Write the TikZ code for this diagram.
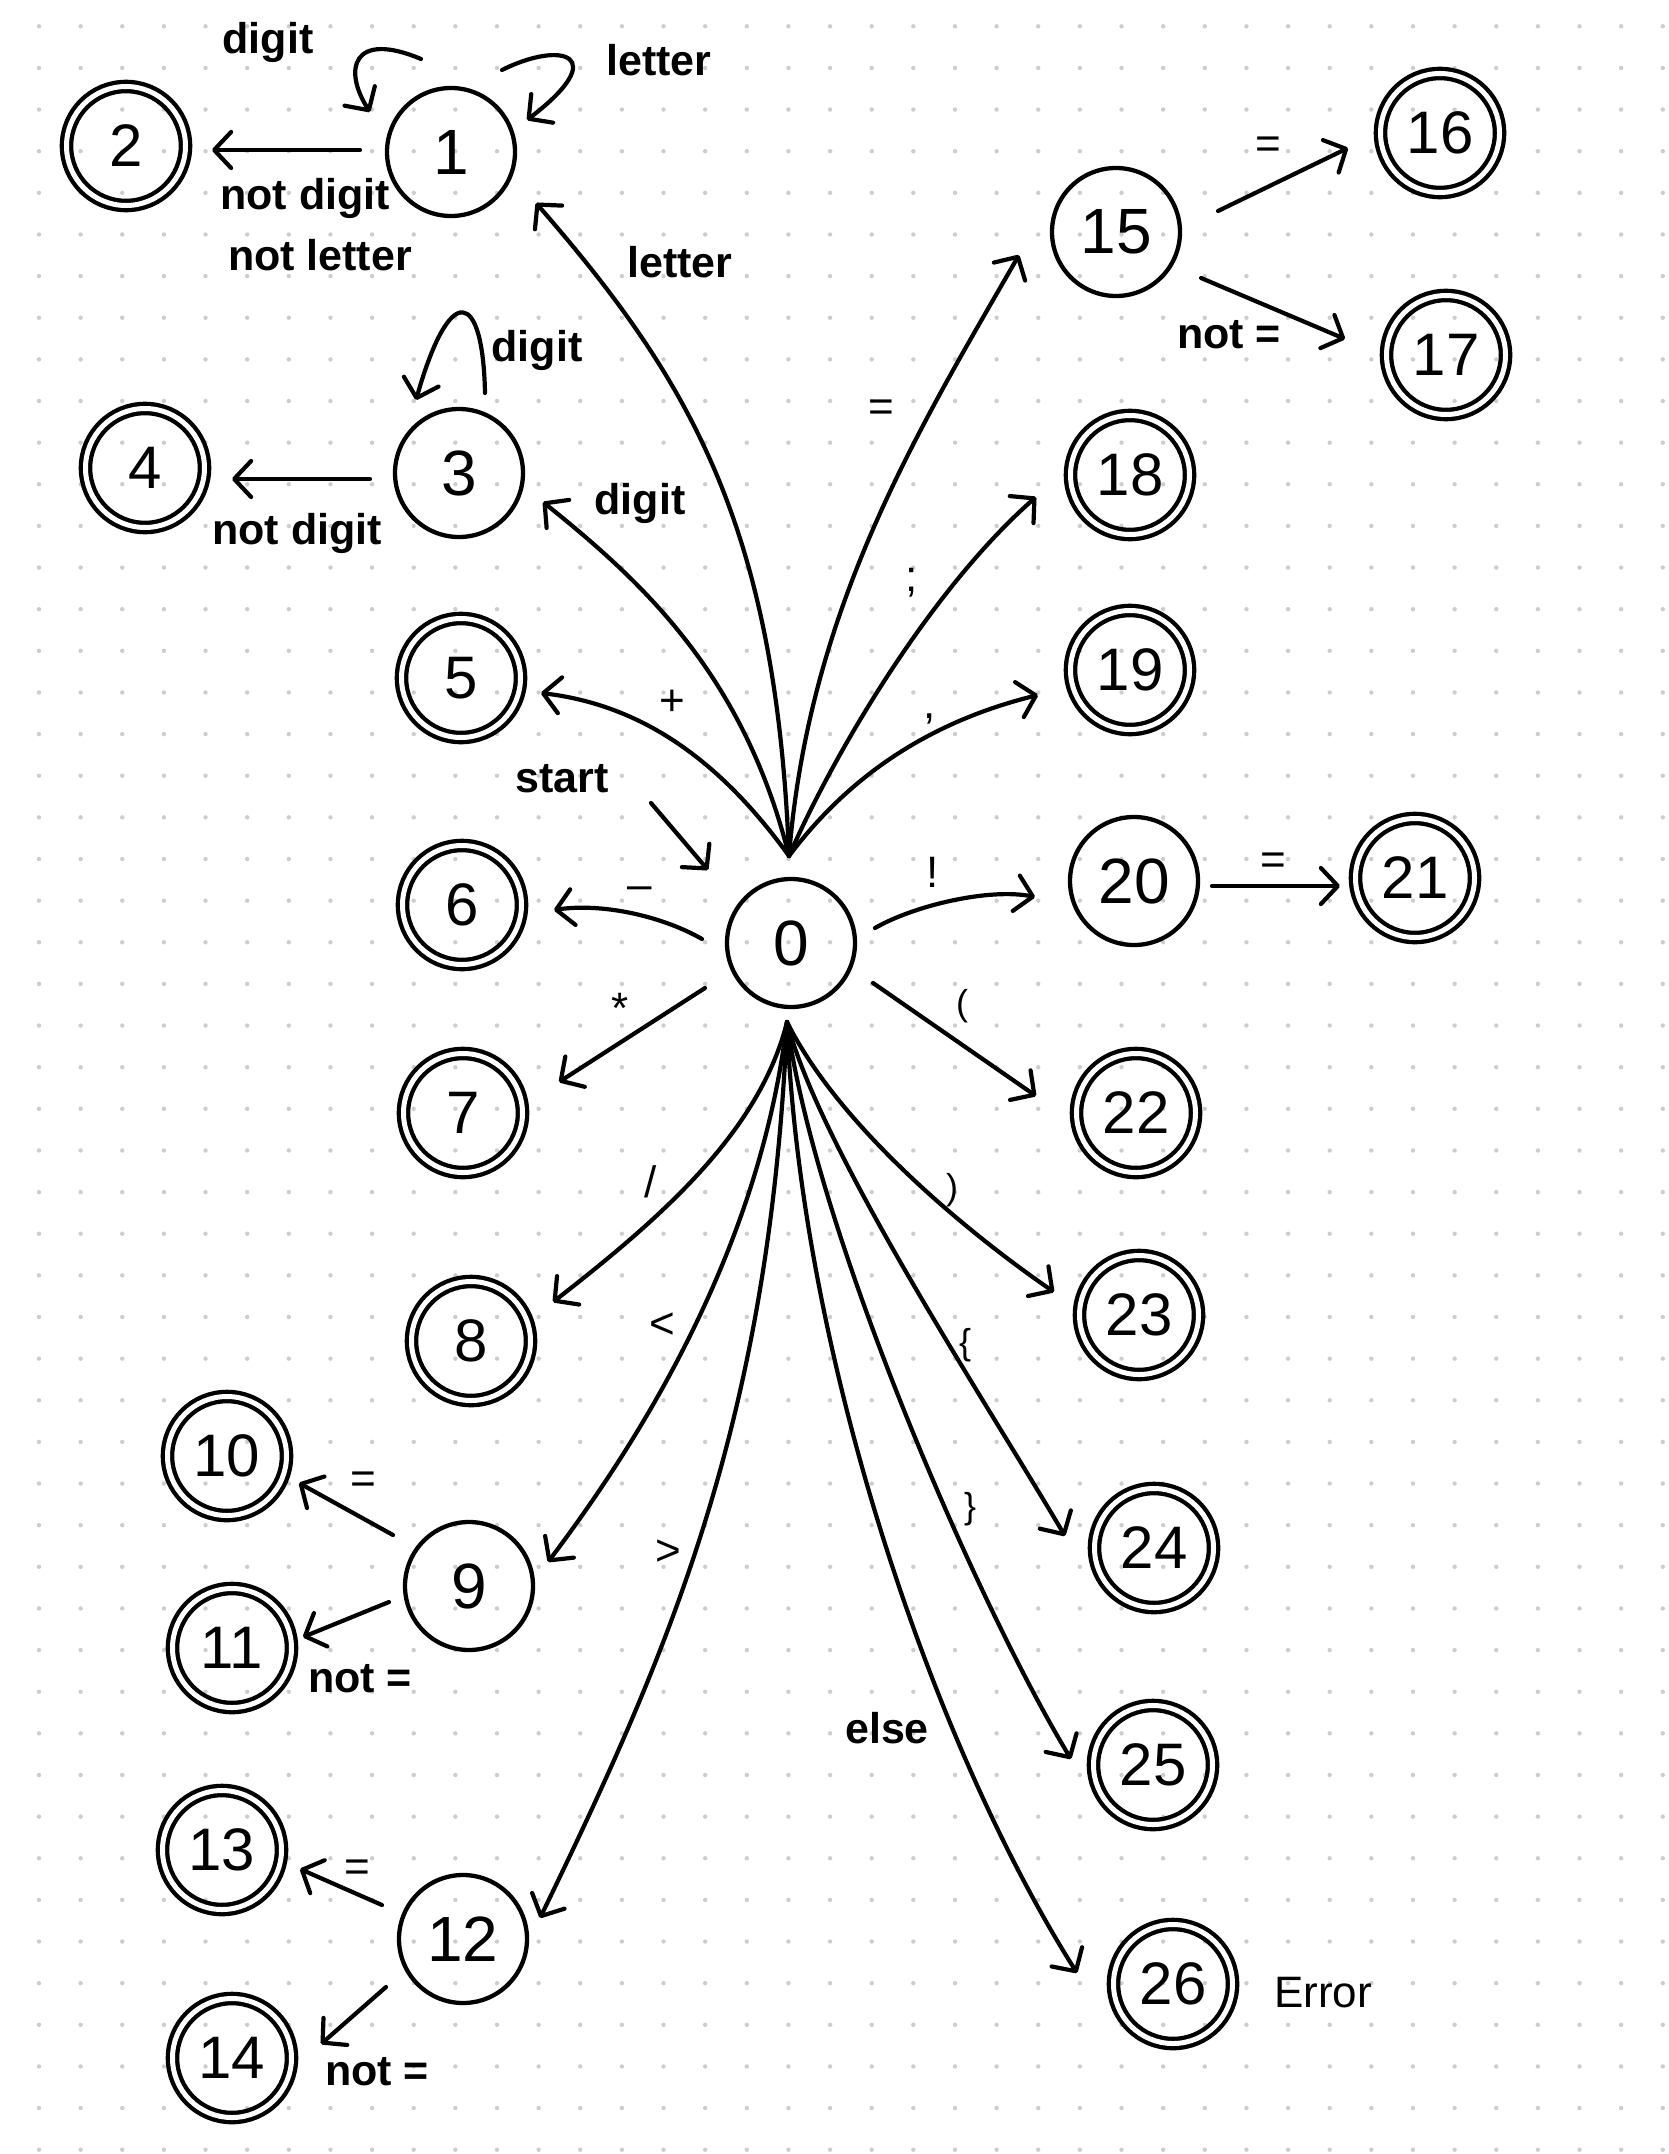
\documentclass[tikz,border=0pt]{standalone}
\usepackage{fontspec}
\setmainfont{Liberation Sans}
\usetikzlibrary{arrows.meta,calc}
\definecolor{dotgray}{RGB}{205,205,205}
\begin{document}
\begin{tikzpicture}[x=1pt,y=-1pt,
  state/.style={circle,draw,line width=4.3pt,minimum size=128pt,inner sep=0pt,outer sep=0pt,font=\fontsize{64}{64}\selectfont},
  accept/.style={circle,draw,line width=4.3pt,double,double distance=5pt,minimum size=119pt,inner sep=0pt,outer sep=0pt,font=\fontsize{60}{60}\selectfont},
  edge/.style={line width=4.2pt,line cap=round,-{Straight Barb[length=17pt,width=36pt,round]}},
  lbl/.style={font=\fontsize{43}{43}\selectfont\bfseries,inner sep=0pt},
  note/.style={font=\fontsize{44}{44}\selectfont,inner sep=0pt},
  sym/.style={font=\fontsize{44}{44}\selectfont,inner sep=0pt},
  brk/.style={font=\fontsize{36}{36}\selectfont,inner sep=0pt}
]
% page and dotted paper
\useasboundingbox (0,0) rectangle (1668,2154);
\fill[white] (0,0) rectangle (1668,2154);
\foreach \i in {0,...,39}{
  \foreach \j in {0,...,51}{
    \fill[dotgray] (39+\i*41.635,26.3+\j*41.635) circle (2.2pt);
  }
}

% states
\node[state]  (n0)  at (791,943)  {0};
\node[state]  (n1)  at (451,152)  {1};
\node[accept] (n2)  at (126,146)  {2};
\node[state]  (n3)  at (459,473)  {3};
\node[accept] (n4)  at (145,468)  {4};
\node[accept] (n5)  at (461,678)  {5};
\node[accept] (n6)  at (462,905)  {6};
\node[accept] (n7)  at (463,1113) {7};
\node[accept] (n8)  at (471,1341) {8};
\node[state]  (n9)  at (469,1586) {9};
\node[accept] (n10) at (227,1456) {10};
\node[accept] (n11) at (232,1648) {11};
\node[state]  (n12) at (463,1939) {12};
\node[accept] (n13) at (222,1850) {13};
\node[accept] (n14) at (232,2058) {14};
\node[state]  (n15) at (1116,232) {15};
\node[accept] (n16) at (1440,133) {16};
\node[accept] (n17) at (1446,355) {17};
\node[accept] (n18) at (1130,475) {18};
\node[accept] (n19) at (1130,670) {19};
\node[state]  (n20) at (1134,881) {20};
\node[accept] (n21) at (1415,878) {21};
\node[accept] (n22) at (1136,1113) {22};
\node[accept] (n23) at (1139,1315) {23};
\node[accept] (n24) at (1154,1548) {24};
\node[accept] (n25) at (1153,1765) {25};
\node[accept] (n26) at (1173,1984) {26};

% fan origins above and below state 0, start arrow tail
\coordinate (f0up) at ($(n0)+(-2,-87)$);
\coordinate (f0dn) at ($(n0)+(-4,79)$);
\coordinate (startpt) at (651,803);

% start arrow
\draw[edge] (startpt) -- ($(n0)+(-83,-73)$);
\node[lbl] (tstart) at (562,779) {start};

% identifier branch
\draw[edge] (f0up) .. controls (776,526) and (690,380) .. ($(n1)+(85,51)$);
\node[lbl] (l01) at (680,262) {letter};
\draw[edge] ($(n1)+(-30,-93)$) .. controls (352,30) and (343,70) .. ($(n1)+(-81,-40)$);
\node[lbl] (l11a) at (268,42) {digit};
\draw[edge] ($(n1)+(51,-82)$) .. controls (562,40) and (612,55) .. ($(n1)+(76,-32)$);
\node[lbl] (l11b) at (659,60) {letter};
\draw[edge] ($(n1)+(-91,-2)$) -- ($(n2)+(86,4)$);
\node[lbl] (l12a) at (305,198) {not digit};
\node[lbl] (l12b) at (320,255) {not letter};

% number branch
\draw[edge] (f0up) .. controls (744,676) and (644,583) .. ($(n3)+(84,29)$);
\node[lbl] (l03) at (640,503) {digit};
\draw[edge] ($(n3)+(26,-80)$) .. controls (483,290) and (450,280) .. ($(n3)+(-43,-73)$);
\node[lbl] (l33) at (537,350) {digit};
\draw[edge] ($(n3)+(-89,6)$) -- ($(n4)+(87,11)$);
\node[lbl] (l34) at (297,533) {not digit};

% single-character operators on the left
\draw[edge] (f0up) .. controls (719,759) and (641,705) .. ($(n5)+(80,15)$);
\node[sym] (l05) at (672,703) {+};
\draw[edge] ($(n0)+(-89,-4)$) .. controls (660,915) and (600,903) .. ($(n6)+(92,5)$);
\node[sym] (l06) at (640,893) {--};
\draw[edge] ($(n0)+(-86,45)$) -- ($(n7)+(96,-31)$);
\node[sym] (l07) at (620,1008) {*};
\draw[edge] (f0dn) .. controls (760,1130) and (665,1215) .. ($(n8)+(82,-39)$);
\node[sym] (l08) at (651,1182) {/};

% relational operators
\draw[edge] (f0dn) .. controls (760,1250) and (640,1440) .. ($(n9)+(79,-24)$);
\node[sym] (l09) at (662,1326) {<};
\draw[edge] ($(n9)+(-76,-51)$) -- ($(n10)+(72,27)$);
\node[sym] (l910) at (363,1483) {=};
\draw[edge] ($(n9)+(-80,16)$) -- ($(n11)+(71,-11)$);
\node[lbl] (l911) at (360,1679) {not =};
\draw[edge] (f0dn) .. controls (770,1420) and (670,1650) .. ($(n12)+(77,-21)$);
\node[sym] (l012) at (668,1553) {>};
\draw[edge] ($(n12)+(-81,-34)$) -- ($(n13)+(78,19)$);
\node[sym] (l1213) at (357,1871) {=};
\draw[edge] ($(n12)+(-77,48)$) -- ($(n14)+(89,-14)$);
\node[lbl] (l1214) at (377,2072) {not =};

% assignment and equality
\draw[edge] (f0up) .. controls (809,606) and (919,429) .. ($(n15)+(-97,23)$);
\node[sym] (l015) at (881,411) {=};
\draw[edge] ($(n15)+(102,-21)$) -- ($(n16)+(-92,15)$);
\node[sym] (l1516) at (1268,148) {=};
\draw[edge] ($(n15)+(85,46)$) -- ($(n17)+(-101,-16)$);
\node[lbl] (l1517) at (1229,335) {not =};

% separators
\draw[edge] (f0up) .. controls (833,755) and (930,590) .. ($(n18)+(-94,22)$);
\node[sym] (l018) at (912,583) {;};
\draw[edge] (f0up) .. controls (849,776) and (929,722) .. ($(n19)+(-92,25)$);
\node[sym] (l019) at (930,719) {,};

% not-equal
\draw[edge] ($(n0)+(84,-15)$) .. controls (915,905) and (990,888) .. ($(n20)+(-99,16)$);
\node[sym] (l020) at (933,872) {!};
\draw[edge] ($(n20)+(78,5)$) -- ($(n21)+(-75,8)$);
\node[sym] (l2021) at (1273,864) {=};

% brackets and braces
\draw[edge] ($(n0)+(82,40)$) -- ($(n22)+(-100,-17)$);
\node[brk] (l022) at (962,1006) {(};
\draw[edge] (f0dn) .. controls (841,1130) and (974,1237) .. ($(n23)+(-85,-23)$);
\node[brk] (l023) at (952,1190) {)};
\draw[edge] (f0dn) .. controls (820,1150) and (985,1400) .. ($(n24)+(-89,-12)$);
\node[brk] (l024) at (965,1345) {\{};
\draw[edge] (f0dn) .. controls (815,1230) and (975,1600) .. ($(n25)+(-82,-6)$);
\node[brk] (l025) at (970,1509) {\}};

% anything else
\draw[edge] (f0dn) .. controls (800,1350) and (930,1740) .. ($(n26)+(-96,-11)$);
\node[lbl] (l026) at (887,1728) {else};
\node[note] (terr) at (1323,1993) {Error};
\end{tikzpicture}
\end{document}
